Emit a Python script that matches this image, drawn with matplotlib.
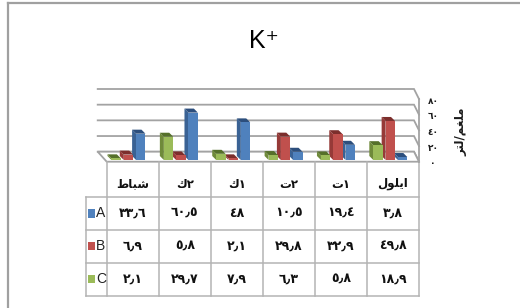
import matplotlib
matplotlib.use('Agg')
import matplotlib.pyplot as plt
from matplotlib.patches import Polygon, Rectangle

# ---------------- data ----------------
title = 'K\u207a'
# categories, left to right as shown (Arabic, shaped presentation forms)
categories = ['\ufec1\ufe8e\ufe92\ufeb7', 'ك٢', 'ك١', 'ت٢', 'ت١', '\ufedd\ufeee\ufee0\ufef3\ufe8d']
series_names = ['A', 'B', 'C']
values_A = [33.6, 60.5, 48, 10.5, 19.4, 3.8]
values_B = [6.9, 5.8, 2.1, 29.8, 32.9, 49.8]
values_C = [2.1, 29.7, 7.9, 6.3, 5.8, 18.9]
y_ticks = [0, 20, 40, 60, 80]
y_label = '\ufeae\ufe98\ufedf/\ufee2\ufed0\ufee0\ufee3'   # ملغم/لتر

series_values = {'A': values_A, 'B': values_B, 'C': values_C}
front_col = {'A': '#4F81BD', 'B': '#C0504D', 'C': '#9BBB59'}
side_col = {'A': '#3A6294', 'B': '#963A38', 'C': '#6F8A3A'}
top_col = {'A': '#2C4E7C', 'B': '#7C2E2C', 'C': '#55702A'}

AR_DIGITS = str.maketrans('0123456789.', '٠١٢٣٤٥٦٧٨٩٫')


def ar_num(v):
    return f'{v:g}'.translate(AR_DIGITS)


AR_FONT = ['DejaVu Sans']
LAT_FONT = ['Liberation Sans', 'DejaVu Sans']

W, H = 520, 308
fig = plt.figure(figsize=(5.2, 3.08), dpi=100)
fig.patch.set_facecolor('white')

# front plane of the 3D plot (value scale)
front_left, front_right = 106.7, 419.0
front_bottom, front_top = 161.7, 99.0
ax = fig.add_axes([front_left / W, (H - front_bottom) / H,
                   (front_right - front_left) / W, (front_bottom - front_top) / H])
ax.set_xlim(-0.5, len(categories) - 0.5)
ax.set_ylim(y_ticks[0], y_ticks[-1])
ax.axis('off')

# overlay in pixel coordinates (y downward) where everything is drawn
ov = fig.add_axes([0, 0, 1, 1], zorder=5)
ov.set_xlim(0, W)
ov.set_ylim(H, 0)
ov.axis('off')
ov.patch.set_alpha(0)


def P(x, v, dx=0.0, dy=0.0):
    d = ax.transData.transform((x, v))
    return (d[0] + dx, H - d[1] - dy)


def frac(x):
    lo, hi = ax.get_xlim()
    return (x - lo) / (hi - lo)


def depth(x, t):
    f = frac(x)
    return t * (-9 + 4 * f), t * 10.0


GRID = '#a3a3a3'
xl, xr = ax.get_xlim()

# back wall gridlines + right side wall
for v in y_ticks:
    bl = P(xl, v, *depth(xl, 1))
    br = P(xr, v, *depth(xr, 1))
    fr = P(xr, v)
    ov.plot([bl[0], br[0], fr[0]], [bl[1], br[1], fr[1]], color=GRID, lw=1.3,
            solid_joinstyle='miter', zorder=1)

# floor
fl, frr = P(xl, 0), P(xr, 0)
bl0, br0 = P(xl, 0, *depth(xl, 1)), P(xr, 0, *depth(xr, 1))
ov.add_patch(Polygon([fl, frr, br0, bl0], closed=True, facecolor='white',
                     edgecolor=GRID, lw=1.3, zorder=1.5))

# bars
order = ['C', 'B', 'A']
offsets = {'C': -0.235, 'B': 0.0, 'A': 0.235}
bw = 0.18
draw_list = []
for i in range(len(categories)):
    for s in order:
        draw_list.append((i + offsets[s], s, series_values[s][i]))
# right-most drawn first so left neighbours occlude side faces
for k, (xc, s, v) in enumerate(sorted(draw_list, key=lambda t: -t[0])):
    f = frac(xc)
    fdx, fdy = -4.4 + 1.9 * f, 1.7
    bdx, bdy = fdx - 4.0, fdy + 4.0
    x0, x1 = xc - bw / 2, xc + bw / 2
    z = 3 + k * 0.01
    FL0, FL1 = P(x0, 0, fdx, fdy), P(x0, v, fdx, fdy)
    FR0, FR1 = P(x1, 0, fdx, fdy), P(x1, v, fdx, fdy)
    BL0, BL1 = P(x0, 0, bdx, bdy), P(x0, v, bdx, bdy)
    BR1 = P(x1, v, bdx, bdy)
    ov.add_patch(Polygon([FL0, FL1, BL1, BL0], closed=True, facecolor=side_col[s],
                         edgecolor='none', zorder=z))
    ov.add_patch(Polygon([FL1, FR1, BR1, BL1], closed=True, facecolor=top_col[s],
                         edgecolor='none', zorder=z))
    ov.add_patch(Polygon([FL0, FL1, FR1, FR0], closed=True, facecolor=front_col[s],
                         edgecolor='none', zorder=z + 0.001))

# value axis labels (right side)
for v in y_ticks:
    px, py = P(xr, v)
    ov.text(433, py + 2, ar_num(v), ha='center', va='center', fontsize=6.5,
            fontweight='bold', family=AR_FONT, color='#1a1a1a')
ov.text(461, 132, y_label, rotation=90, ha='center', va='center', fontsize=8.5,
        fontweight='bold', family=AR_FONT, color='#1a1a1a')

# title
ov.text(264, 41, title, ha='center', va='center', fontsize=18, family=LAT_FONT,
        color='black')

# chart border
ov.plot([7.5, 7.5], [2.5, H + 5], color='#a0a0a0', lw=1.6, zorder=10)
ov.plot([7.5, W + 5], [2.5, 2.5], color='#a0a0a0', lw=1.6, zorder=10)

# data table
TL = '#b4b4b4'
col_edges = [P(i - 0.5, 0)[0] for i in range(len(categories) + 1)]
key_left = 85.7
row_edges = [front_bottom, 196.7, 230.0, 262.5, 295.7]
for xe in col_edges:
    ov.plot([xe, xe], [row_edges[0], row_edges[-1]], color=TL, lw=1.1, zorder=2)
ov.plot([col_edges[-1], col_edges[-1]], [P(xr, y_ticks[-1])[1], row_edges[0]],
        color=GRID, lw=1.3, zorder=2)
ov.plot([key_left, key_left], [row_edges[1], row_edges[-1]], color=TL, lw=1.1, zorder=2)
for ye in row_edges[1:]:
    ov.plot([key_left, col_edges[-1]], [ye, ye], color=TL, lw=1.1, zorder=2)

for i, c in enumerate(categories):
    cx = (col_edges[i] + col_edges[i + 1]) / 2
    ov.text(cx, 184, c, ha='center', va='center', fontsize=8.5, fontweight='bold',
            family=AR_FONT, color='#111111')
for r, s in enumerate(series_names):
    cy = (row_edges[r + 1] + row_edges[r + 2]) / 2
    ov.add_patch(Rectangle((88.3, cy - 4.2), 6.5, 8.4, facecolor=front_col[s],
                           edgecolor='none', zorder=3))
    ov.text(96.3, cy, s, ha='left', va='center', fontsize=10, family=LAT_FONT,
            color='#222222')
    for i, v in enumerate(series_values[s]):
        cx = (col_edges[i] + col_edges[i + 1]) / 2
        ov.text(cx, cy, ar_num(v), ha='center', va='center', fontsize=9,
                fontweight='bold', family=AR_FONT, color='#111111')

fig.savefig('out.png', dpi=100, facecolor='white')
